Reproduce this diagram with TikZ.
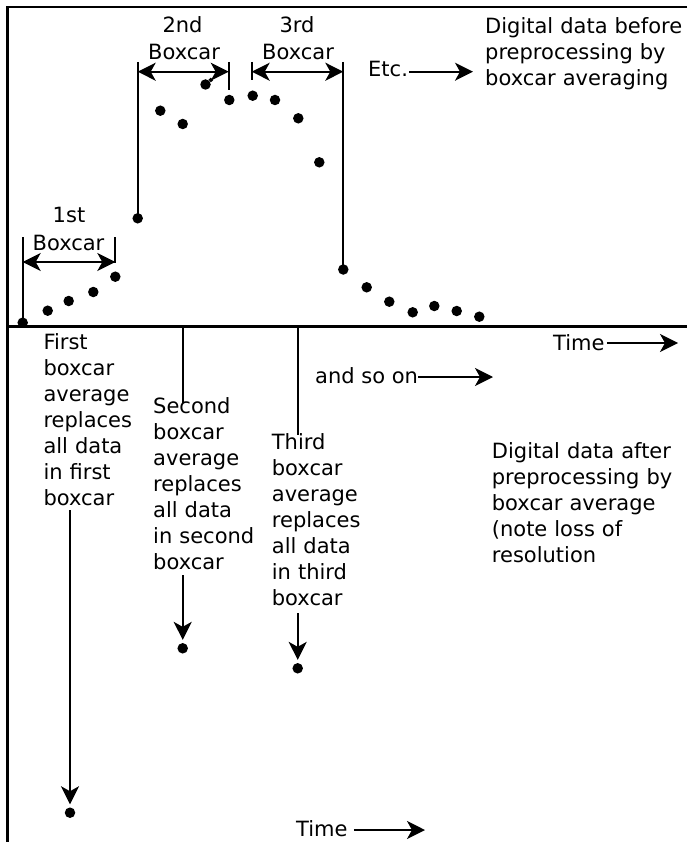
\documentclass[tikz,border=0pt]{standalone}
\usepackage{fontspec}
\setmainfont{DejaVu Sans}
\usetikzlibrary{arrows.meta}
\tikzset{
  bighead/.tip={Stealth[length=18pt,width=18pt,inset=5pt]},
}
\begin{document}
\begin{tikzpicture}[x=1pt,y=-1pt,
  dot/.style={circle,fill=black,inner sep=0pt,minimum size=10.5pt},
  ln/.style={line width=1.8pt},
  frame/.style={line width=2.2pt},
  arr/.style={ln,-bighead},
  darr/.style={ln,bighead-bighead},
  lbl/.style={inner sep=0pt,font=\fontsize{21}{26}\selectfont},
  para/.style={lbl,anchor=base west,text width=210pt,align=left}]
\useasboundingbox (0,0) rectangle (687,842);
% frame and axis
\draw[frame] (687,7.3) -- (7.5,7.3) -- (7.5,842);
\draw[frame] (7.5,326.5) -- (687,326.5);
% data points before
\foreach \n/\px/\py in {1/22.7/322.7,2/47.7/310.7,3/68.7/301,4/93.3/292,5/115.3/276.7,
  6/137.7/218.3,7/160.3/110.7,8/182.7/124,9/205.5/84.5,10/229.3/100,11/252.7/95.7,
  12/275/100,13/298.3/118.3,14/319.3/162.3,15/343.3/269.5,16/366.7/287.3,17/389.3/301.7,
  18/412.7/312.3,19/434.3/306,20/456.7/311,21/479.3/316.7}
  \node[dot] (d\n) at (\px,\py) {};
\coordinate (h9) at (212,79);
\draw[line width=3.5pt] (d9) -- (h9);
% 1st boxcar
\node[lbl,anchor=base] (t1a) at (69,222.7) {1st};
\node[lbl,anchor=base] (t1b) at (68.5,250) {Boxcar};
\coordinate (b1l) at (22.7,237);
\coordinate (b1r) at (115.3,237);
\coordinate (b1rb) at (115.3,263);
\coordinate (b1al) at (22.7,262);
\coordinate (b1ar) at (115.3,262);
\draw[ln] (b1l) -- (d1.center);
\draw[ln] (b1r) -- (b1rb);
\draw[darr] (b1al) -- (b1ar);
% 2nd boxcar
\node[lbl,anchor=base] (t2a) at (182.5,33) {2nd};
\node[lbl,anchor=base] (t2b) at (184,60) {Boxcar};
\coordinate (b2l) at (137.7,62);
\coordinate (b2r) at (228.7,62);
\coordinate (b2rb) at (228.7,90);
\coordinate (b2al) at (137.7,71.7);
\coordinate (b2ar) at (228.7,71.7);
\draw[ln] (b2l) -- (d6.center);
\draw[ln] (b2r) -- (b2rb);
\draw[darr] (b2al) -- (b2ar);
% 3rd boxcar
\node[lbl,anchor=base] (t3a) at (297,33) {3rd};
\node[lbl,anchor=base] (t3b) at (298,60) {Boxcar};
\coordinate (b3l) at (251.7,62);
\coordinate (b3lb) at (251.7,80);
\coordinate (b3r) at (343.3,62);
\coordinate (b3al) at (251.7,71.7);
\coordinate (b3ar) at (343.3,71.7);
\draw[ln] (b3l) -- (b3lb);
\draw[ln] (b3r) -- (d15.center);
\draw[darr] (b3al) -- (b3ar);
% Etc.
\node[lbl,anchor=base west] (etc) at (368,77) {Etc.};
\coordinate (etce) at (473,71.7);
\draw[arr] (etc.east |- etce) ++(1,0) coordinate (etcs) -- (etce);
\node[para] (before) at (485,33.3) {Digital data before\\preprocessing by\\boxcar averaging};
% Time (upper)
\node[lbl,anchor=base west] (time1) at (553,350) {Time};
\coordinate (time1e) at (678,343);
\draw[arr] (time1.east |- time1e) ++(2,0) coordinate (time1s) -- (time1e);
% and so on
\node[lbl,anchor=base west] (soon) at (315,383) {and so on};
\coordinate (soone) at (493,377);
\draw[arr] (soon.east |- soone) coordinate (soons) -- (soone);
% lower texts
\node[para] (first) at (43.3,349.5) {First\\boxcar\\average\\replaces\\all data\\in first\\boxcar};
\node[para] (second) at (153,413) {Second\\boxcar\\average\\replaces\\all data\\in second\\boxcar};
\node[para] (third) at (271.7,449.3) {Third\\boxcar\\average\\replaces\\all data\\in third\\boxcar};
\node[para] (after) at (491.7,458.3) {Digital data after\\preprocessing by\\boxcar average\\(note loss of\\resolution};
% vertical lines from the axis
\coordinate (v2t) at (182.7,326.5);
\coordinate (v2b) at (182.7,403);
\coordinate (v3t) at (297.7,326.5);
\coordinate (v3b) at (297.7,435);
\draw[ln] (v2t) -- (v2b);
\draw[ln] (v3t) -- (v3b);
% averaged points
\node[dot] (e1) at (70,812.7) {};
\node[dot] (e2) at (182.7,648.3) {};
\node[dot] (e3) at (297.7,668.3) {};
\coordinate (a1) at (70,510);
\coordinate (a2) at (182.7,575);
\coordinate (a3) at (297.7,613);
\draw[arr,shorten >=3pt] (a1) -- (e1.north);
\draw[arr,shorten >=3pt] (a2) -- (e2.north);
\draw[arr,shorten >=3pt] (a3) -- (e3.north);
% Time (lower)
\node[lbl,anchor=base west] (time2) at (296,836.7) {Time};
\coordinate (time2e) at (425,830);
\draw[arr] (time2.east |- time2e) ++(6,0) coordinate (time2s) -- (time2e);
\end{tikzpicture}
\end{document}
